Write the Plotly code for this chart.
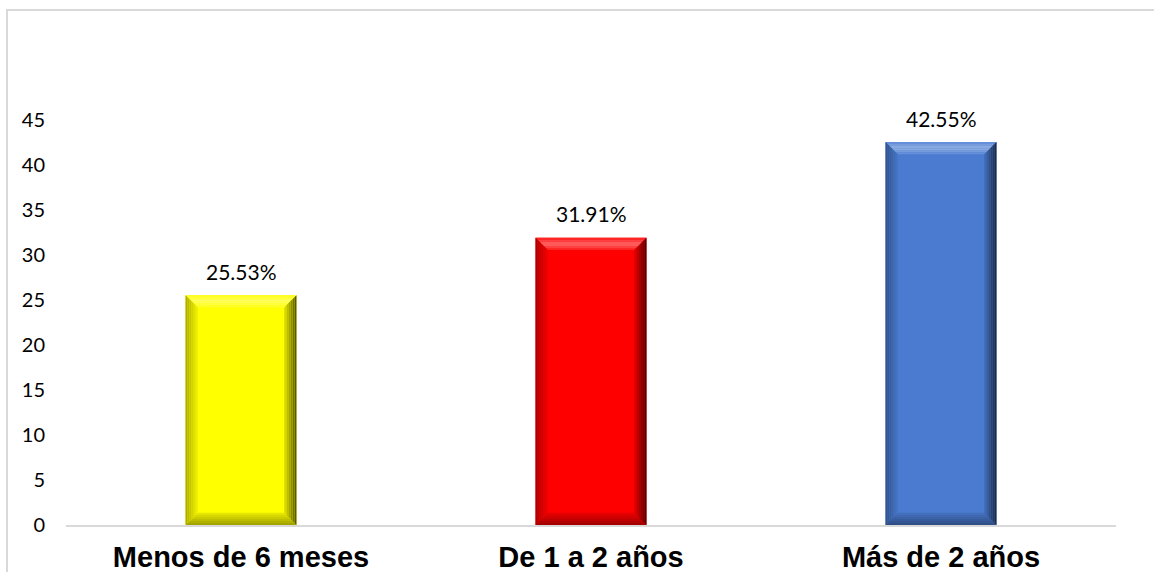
import plotly.graph_objects as go

# Chart data
categories = ["Menos de 6 meses", "De 1 a 2 años", "Más de 2 años"]
values = [25.53, 31.91, 42.55]
labels = ["25.53%", "31.91%", "42.55%"]
y_ticks = [0, 5, 10, 15, 20, 25, 30, 35, 40, 45]

# Styling
bar_colors = ["#FFFF00", "#FF0000", "#4A7BD1"]
BAR_W = 0.317
BEVEL_X = 0.035
BEVEL_Y = 1.35
STRIPS = 6


def hex_to_rgb(h):
    h = h.lstrip("#")
    return tuple(int(h[i:i + 2], 16) for i in (0, 2, 4))


def mix(c, target, t):
    r, g, b = hex_to_rgb(c)
    tr, tg, tb = target
    return "rgb(%d,%d,%d)" % (
        round(r + (tr - r) * t), round(g + (tg - g) * t), round(b + (tb - b) * t)
    )


def poly(pts, color):
    path = "M " + " L ".join(f"{x},{y}" for x, y in pts) + " Z"
    return dict(type="path", path=path, xref="x", yref="y",
                fillcolor=color, line=dict(width=0), layer="above")


xs = list(range(len(categories)))

fig = go.Figure()
fig.add_trace(go.Bar(
    x=xs, y=values, width=BAR_W,
    marker=dict(color=bar_colors, line=dict(width=0)),
    hoverinfo="skip",
))

shapes = []
black = (0, 0, 0)
white = (255, 255, 255)
for c, v, col in zip(xs, values, bar_colors):
    h = BAR_W / 2
    L, R = c - h, c + h
    for i in range(STRIPS):
        t0 = i / STRIPS
        t1 = (i + 1) / STRIPS
        dx0, dx1 = BEVEL_X * t0, BEVEL_X * t1
        dy0, dy1 = BEVEL_Y * t0, BEVEL_Y * t1
        k = 1 - (i + 0.5) / STRIPS  # 1 at outer edge, 0 toward face
        mid = 1 - abs(k - 0.5) * 2
        # top facet: light highlight
        shapes.append(poly([(L + dx0, v - dy0), (R - dx0, v - dy0),
                            (R - dx1, v - dy1), (L + dx1, v - dy1)],
                           mix(col, white, 0.1 + 0.3 * mid)))
        # bottom facet: darker
        shapes.append(poly([(L + dx0, dy0), (R - dx0, dy0),
                            (R - dx1, dy1), (L + dx1, dy1)],
                           mix(col, black, 0.08 + 0.3 * k)))
        # left facet: slightly darker
        shapes.append(poly([(L + dx0, v - dy0), (L + dx0, dy0),
                            (L + dx1, dy1), (L + dx1, v - dy1)],
                           mix(col, black, 0.05 + 0.3 * k)))
        # right facet: dark shading
        shapes.append(poly([(R - dx0, v - dy0), (R - dx0, dy0),
                            (R - dx1, dy1), (R - dx1, v - dy1)],
                           mix(col, black, 0.1 + 0.6 * k)))

# Outer chart frame (light gray)
shapes.append(dict(type="rect", xref="paper", yref="paper",
                   x0=-0.0562, x1=1.06, y0=-0.2, y1=1.1444,
                   line=dict(color="#D9D9D9", width=2), fillcolor="rgba(0,0,0,0)",
                   layer="below"))

annotations = [
    dict(x=c, y=v, xref="x", yref="y", text=t, showarrow=False,
         yshift=24, font=dict(family="Lato, Carlito, Calibri, sans-serif",
                              size=21, color="#000000"))
    for c, v, t in zip(xs, values, labels)
]

fig.update_layout(
    width=1154, height=572,
    margin=dict(l=66, r=38, t=75, b=47, autoexpand=False),
    paper_bgcolor="white", plot_bgcolor="white",
    showlegend=False,
    shapes=shapes,
    annotations=annotations,
    xaxis=dict(
        range=[-0.5, 2.5],
        tickvals=xs, ticktext=categories,
        tickfont=dict(family="Liberation Sans, Arial, sans-serif", size=29,
                      color="#000000", weight="bold"),
        showline=True, linecolor="#D9D9D9", linewidth=2,
        showgrid=False, zeroline=False, ticks="",
        ticklabelstandoff=5, automargin=False,
    ),
    yaxis=dict(
        range=[0, 50],
        tickvals=y_ticks,
        tickfont=dict(family="Lato, Carlito, Calibri, sans-serif", size=20,
                      color="#000000"),
        showline=False, showgrid=False, zeroline=False, ticks="",
        ticklabelstandoff=20, automargin=False,
    ),
)

fig.write_html("out.html")
